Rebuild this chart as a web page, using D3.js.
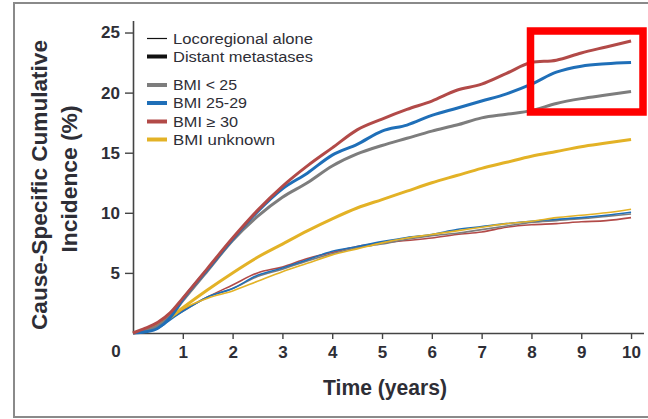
<!DOCTYPE html>
<html><head><meta charset="utf-8">
<script src="https://cdn.jsdelivr.net/npm/d3@7"></script>
<style>
html,body{margin:0;padding:0;background:#fff;}
svg{display:block;}
</style></head>
<body>
<svg id="chart" width="648" height="419"></svg>
<script>
// ---- data ----
const years = [0,0.25,0.5,0.75,1,1.5,2,2.5,3,3.5,4,4.5,5,5.5,6,6.5,7,7.5,8,8.5,9,9.5,10];
// Distant metastases (thick lines)
const distantBmiLt25   = [0,0.2,0.6,1.4,2.7,5.2,7.7,9.7,11.3,12.5,13.9,14.9,15.6,16.2,16.8,17.3,17.9,18.2,18.5,19.1,19.5,19.8,20.1];
const distantBmi2529   = [0,0.1,0.4,1.3,2.8,5.3,7.8,10.1,12.0,13.3,14.8,15.7,16.8,17.3,18.1,18.7,19.3,19.9,20.7,21.7,22.2,22.4,22.5];
const distantBmiGe30   = [0,0.4,0.9,1.7,2.9,5.4,7.9,10.2,12.2,13.9,15.4,16.9,17.8,18.6,19.3,20.2,20.7,21.6,22.5,22.7,23.3,23.8,24.3];
const distantBmiUnk    = [0,0.25,0.7,1.3,2.1,3.6,5.0,6.3,7.4,8.5,9.5,10.4,11.1,11.8,12.5,13.1,13.7,14.2,14.7,15.1,15.5,15.8,16.1];
// Locoregional alone (thin lines)
const locoBmiLt25      = [0,0.2,0.6,1.2,1.8,3.0,3.7,4.7,5.3,6.0,6.6,7.1,7.4,7.8,8.1,8.3,8.6,8.9,9.2,9.35,9.5,9.7,9.9];
const locoBmi2529      = [0,0.1,0.4,1.1,1.8,3.0,3.7,4.8,5.4,6.1,6.8,7.2,7.6,7.95,8.2,8.6,8.85,9.1,9.3,9.45,9.6,9.8,10.05];
const locoBmiGe30      = [0,0.3,0.8,1.4,1.9,3.0,4.0,5.0,5.5,6.2,6.7,7.2,7.5,7.7,7.9,8.2,8.4,8.8,9.0,9.1,9.25,9.35,9.6];
const locoBmiUnk       = [0,0.3,0.7,1.3,2.0,2.9,3.5,4.3,5.1,5.8,6.5,7.0,7.5,7.9,8.2,8.5,8.8,9.1,9.3,9.6,9.8,10.0,10.3];

const xTickValues = [1,2,3,4,5,6,7,8,9,10];
const yTickValues = [5,10,15,20,25];
const bmiLabels = ["BMI < 25","BMI 25-29","BMI \u2265 30","BMI unknown"];
const bmiColors = ["#7d7d7d","#1f6fb8","#b24a48","#e3b226"];
const typeLabels = ["Locoregional alone","Distant metastases"];

// ---- drawing ----
const svg = d3.select("#chart");
const titleFont = "'Liberation Sans Narrow','Arial Narrow','Liberation Sans',Arial,sans-serif";
const bodyFont = "'Liberation Sans',Arial,Helvetica,sans-serif";
const textColor = "#2e2e36";

// outer frame
svg.append("path").attr("d","M 648 3 L 14 3 L 14 417 L 648 417")
  .attr("fill","none").attr("stroke","#8a8a8a").attr("stroke-width",2);

const x = d3.scaleLinear().domain([0,10.25]).range([133,643.5]);
const y = d3.scaleLinear().domain([0,26]).range([333,20.5]);

const xAxis = svg.append("g").attr("transform","translate(0,333)")
  .call(d3.axisBottom(x).tickValues(xTickValues).tickSize(6).tickSizeOuter(0).tickPadding(7).tickFormat(d3.format("d")));
const yAxis = svg.append("g").attr("transform","translate(133,0)")
  .call(d3.axisLeft(y).tickValues(yTickValues).tickSize(8).tickSizeOuter(0).tickPadding(5).tickFormat(d3.format("d")));
[xAxis,yAxis].forEach(g=>{
  g.selectAll(".domain").attr("stroke","#444").attr("stroke-width",1.6);
  g.selectAll(".tick line").attr("stroke","#444").attr("stroke-width",1.4);
  g.selectAll(".tick text").attr("fill",textColor).attr("font-family",titleFont)
    .attr("font-weight","bold").attr("font-size",17);
});
// origin label
svg.append("text").attr("x",116).attr("y",357).attr("text-anchor","middle")
  .attr("fill",textColor).attr("font-family",titleFont).attr("font-weight","bold").attr("font-size",17).text("0");

// axis titles
svg.append("text").attr("x",385).attr("y",395).attr("text-anchor","middle")
  .attr("fill",textColor).attr("font-family",titleFont).attr("font-weight","bold").attr("font-size",22)
  .attr("textLength",124).attr("lengthAdjust","spacingAndGlyphs").text("Time (years)");
const yt = svg.append("g").attr("transform","rotate(-90)");
yt.append("text").attr("x",-185).attr("y",47).attr("text-anchor","middle")
  .attr("fill",textColor).attr("font-family",titleFont).attr("font-weight","bold").attr("font-size",22)
  .attr("textLength",290).attr("lengthAdjust","spacingAndGlyphs").text("Cause-Specific Cumulative");
yt.append("text").attr("x",-179).attr("y",77).attr("text-anchor","middle")
  .attr("fill",textColor).attr("font-family",titleFont).attr("font-weight","bold").attr("font-size",22)
  .attr("textLength",147).attr("lengthAdjust","spacingAndGlyphs").text("Incidence (%)");

// curves
const line = d3.line().x((d,i)=>x(years[i])).y(d=>y(d)).curve(d3.curveMonotoneX);
const loco = [locoBmiLt25, locoBmi2529, locoBmiGe30, locoBmiUnk];
const distant = [distantBmiLt25, distantBmi2529, distantBmiGe30, distantBmiUnk];
[2,0,1,3].forEach(i=>{
  svg.append("path").attr("d",line(loco[i])).attr("fill","none")
    .attr("stroke",bmiColors[i]).attr("stroke-width",1.6);
});
[3,0,1,2].forEach(i=>{
  svg.append("path").attr("d",line(distant[i])).attr("fill","none")
    .attr("stroke",bmiColors[i]).attr("stroke-width",3).attr("stroke-linejoin","round");
});

// legend
const legend = svg.append("g");
const typeRows = [{y:38.5,w:1.2,tl:140},{y:56.5,w:4,tl:140}];
typeLabels.forEach((lab,i)=>{
  legend.append("line").attr("x1",147).attr("x2",167).attr("y1",typeRows[i].y).attr("y2",typeRows[i].y)
    .attr("stroke","#111").attr("stroke-width",typeRows[i].w);
  legend.append("text").attr("x",173).attr("y",typeRows[i].y+5.5).attr("fill",textColor)
    .attr("font-family",bodyFont).attr("font-size",14)
    .attr("textLength",typeRows[i].tl).attr("lengthAdjust","spacingAndGlyphs").text(lab);
});
const bmiRowY = [85,103,121.5,139.5];
const bmiTL = [64,74,65,102];
bmiLabels.forEach((lab,i)=>{
  legend.append("line").attr("x1",147).attr("x2",167).attr("y1",bmiRowY[i]).attr("y2",bmiRowY[i])
    .attr("stroke",bmiColors[i]).attr("stroke-width",4);
  legend.append("text").attr("x",173).attr("y",bmiRowY[i]+5).attr("fill",textColor)
    .attr("font-family",bodyFont).attr("font-size",14)
    .attr("textLength",bmiTL[i]).attr("lengthAdjust","spacingAndGlyphs").text(lab);
});

// highlight box
svg.append("rect").attr("x",530.5).attr("y",31).attr("width",112.5).attr("height",81)
  .attr("fill","none").attr("stroke","#ff0000").attr("stroke-width",7.5);
</script>
</body></html>
